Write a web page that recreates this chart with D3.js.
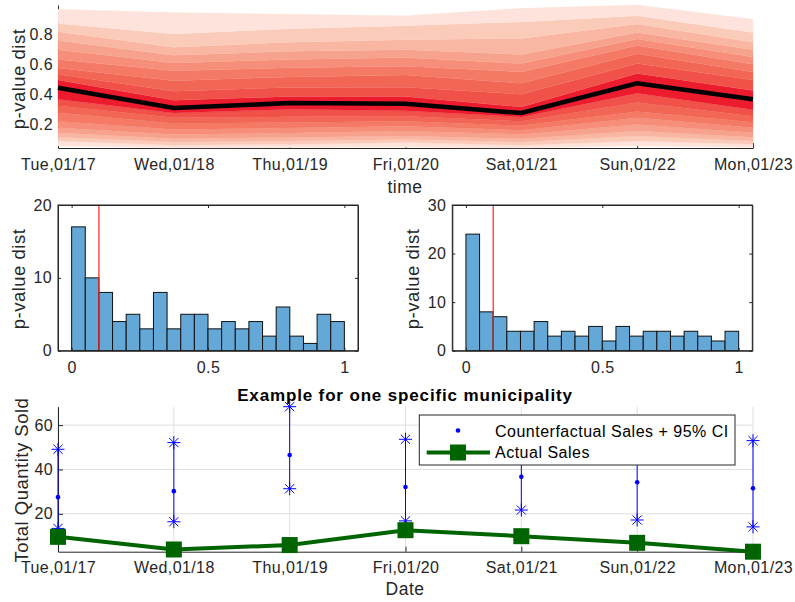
<!DOCTYPE html>
<html>
<head>
<meta charset="utf-8">
<script src="https://cdn.jsdelivr.net/npm/d3@7/dist/d3.min.js"></script>
<style>
  body { margin: 0; background: #fff; }
  text { font-family: "Liberation Sans", Arial, sans-serif; }
</style>
</head>
<body>
<div id="chart"></div>
<script>
      // ---- data ----
      var days = ["Tue,01/17", "Wed,01/18", "Thu,01/19", "Fri,01/20", "Sat,01/21", "Sun,01/22", "Mon,01/23"];

      // fan chart: quantile edges per day, bottom -> median and median -> top
      var fanLow = [
        [0.056, 0.089, 0.115, 0.144, 0.177, 0.220, 0.277, 0.323, 0.367],
        [0.043, 0.061, 0.083, 0.105, 0.133, 0.166, 0.205, 0.243, 0.275],
        [0.046, 0.068, 0.090, 0.113, 0.142, 0.176, 0.212, 0.250, 0.300],
        [0.048, 0.079, 0.100, 0.122, 0.155, 0.188, 0.220, 0.253, 0.290],
        [0.043, 0.061, 0.083, 0.105, 0.133, 0.161, 0.192, 0.220, 0.249],
        [0.056, 0.089, 0.122, 0.155, 0.199, 0.243, 0.286, 0.345, 0.407],
        [0.046, 0.068, 0.089, 0.115, 0.144, 0.177, 0.214, 0.253, 0.297]
      ];
      var fanHigh = [
        [0.494, 0.533, 0.574, 0.630, 0.695, 0.756, 0.815, 0.870, 0.964],
        [0.360, 0.420, 0.490, 0.555, 0.607, 0.658, 0.712, 0.800, 0.942],
        [0.385, 0.445, 0.515, 0.575, 0.630, 0.685, 0.745, 0.835, 0.931],
        [0.384, 0.446, 0.527, 0.586, 0.643, 0.695, 0.761, 0.854, 0.920],
        [0.315, 0.400, 0.472, 0.548, 0.603, 0.664, 0.770, 0.880, 0.970],
        [0.538, 0.603, 0.669, 0.723, 0.767, 0.810, 0.866, 0.920, 0.992],
        [0.424, 0.494, 0.548, 0.599, 0.647, 0.695, 0.745, 0.810, 0.898]
      ];
      var fanMedian = [0.443, 0.308, 0.341, 0.336, 0.275, 0.472, 0.367];
      var fanTicks = [0.2, 0.4, 0.6, 0.8];

      // histograms of p-values (20 bins of 0.05)
      var histLeft = [17, 10, 8, 4, 5, 3, 8, 3, 5, 5, 3, 4, 3, 4, 2, 6, 2, 1, 5, 4];
      var histRight = [24, 8, 7, 4, 4, 6, 3, 4, 3, 5, 2, 5, 3, 4, 4, 3, 4, 3, 2, 4];
      var binWidth = 0.05;
      var threshold = 0.1;

      // one municipality
      var cfMean = [27.5, 30.2, 46.5, 32.1, 36.7, 34.2, 31.5];
      var cfLower = [13.4, 16.4, 31.3, 16.8, 21.7, 17.2, 14.1];
      var cfUpper = [49.1, 52.1, 68.3, 53.6, 54.5, 51.5, 53.0];
      var actualSales = [9.6, 3.9, 5.9, 12.6, 9.9, 6.9, 2.9];
      var salesTicks = [20, 40, 60];

      // ---- drawing ----
      var axisColor = "#262626";
      var fontSize = "16px";
      var spacing = "0.4px";

      var svg = d3.select("#chart").append("svg")
        .attr("width", 795)
        .attr("height", 602);

      function styleAxis(g) {
        g.attr("font-family", null).attr("font-size", null);
        g.select(".domain").attr("stroke", axisColor);
        g.selectAll(".tick line").attr("stroke", axisColor);
        g.selectAll(".tick text")
          .attr("fill", axisColor)
          .style("font-size", fontSize)
          .style("letter-spacing", spacing);
      }

      // axis titles: horizontal ones a bit larger than ticks, vertical ones larger still
      function label(x, y, txt, rotate) {
        var t = svg.append("text")
          .attr("text-anchor", "middle")
          .attr("fill", axisColor)
          .style("font-size", rotate ? "18.5px" : "17.5px")
          .style("letter-spacing", "0.5px")
          .text(txt);
        if (rotate) {
          t.attr("transform", "translate(" + x + "," + y + ") rotate(-90)");
        } else {
          t.attr("x", x).attr("y", y);
        }
        return t;
      }

      // ===== top: fan chart =====
      var xDay = d3.scalePoint().domain(days).range([58, 753]).padding(0);
      var allEdges = d3.merge(fanLow.concat(fanHigh));
      var yFan = d3.scaleLinear().domain(d3.extent(allEdges)).range([148, 5]);

      // axes first, the fan is painted over them (matlab layer = bottom)
      svg.append("g")
        .attr("transform", "translate(0,148)")
        .call(d3.axisBottom(xDay).tickSizeInner(-5).tickSizeOuter(0).tickPadding(11))
        .call(styleAxis);
      svg.append("g")
        .attr("transform", "translate(58,0)")
        .call(d3.axisLeft(yFan).tickValues(fanTicks).tickFormat(d3.format(".1f"))
          .tickSizeInner(-5).tickSizeOuter(0).tickPadding(5))
        .call(styleAxis);

      var bandColors = ["#ec1b2e", "#f0524a", "#f26656", "#f47a66", "#f68e79", "#f7a28d", "#f9b6a2", "#fbcbba", "#fde3db"];

      var edgesByDay = days.map(function(d, i) {
        return fanLow[i].concat(fanHigh[i]);
      });
      var nBands = edgesByDay[0].length - 1;
      var centre = fanLow[0].length - 1;
      var bands = d3.range(nBands).map(function(b) {
        return {
          level: Math.abs(b - centre),
          pts: days.map(function(d, i) {
            return { day: d, lo: edgesByDay[i][b], hi: edgesByDay[i][b + 1] };
          })
        };
      });

      var fanArea = d3.area()
        .x(function(p) { return xDay(p.day); })
        .y0(function(p) { return yFan(p.lo); })
        .y1(function(p) { return yFan(p.hi); });

      var fanG = svg.append("g");
      fanG.selectAll(".band")
        .data(bands)
        .enter().append("path")
        .attr("class", "band")
        .attr("d", function(b) { return fanArea(b.pts); })
        .attr("fill", function(b) { return bandColors[b.level]; })
        .attr("stroke", function(b) { return bandColors[b.level]; })
        .attr("stroke-width", 0.3);

      fanG.append("path")
        .datum(fanMedian)
        .attr("fill", "none")
        .attr("stroke", "#000")
        .attr("stroke-width", 4.5)
        .attr("d", d3.line()
          .x(function(v, i) { return xDay(days[i]); })
          .y(function(v) { return yFan(v); }));

      label(405, 193, "time");
      label(25, 79, "p-value dist", true);

      // ===== middle: histograms =====
      function histogram(counts, left, yMax, yTicks) {
        var x = d3.scaleLinear().domain([-0.05, 1.05]).range([left, left + 300]);
        var y = d3.scaleLinear().domain([0, yMax]).range([350.7, 205]);
        var g = svg.append("g");

        g.selectAll("rect")
          .data(counts)
          .enter().append("rect")
          .attr("x", function(c, i) { return x(i * binWidth); })
          .attr("width", function(c, i) { return x((i + 1) * binWidth) - x(i * binWidth); })
          .attr("y", function(c) { return y(c); })
          .attr("height", function(c) { return y(0) - y(c); })
          .attr("fill", "#64a8d7")
          .attr("stroke", "#111")
          .attr("stroke-width", 1);

        g.append("line")
          .attr("x1", x(threshold)).attr("x2", x(threshold))
          .attr("y1", y(0)).attr("y2", y(yMax))
          .attr("stroke", "#ff2020")
          .attr("stroke-width", 1.2);

        g.append("rect")
          .attr("x", x(-0.05)).attr("y", y(yMax))
          .attr("width", 300).attr("height", y(0) - y(yMax))
          .attr("fill", "none")
          .attr("stroke", axisColor);

        var xt = [0, 0.5, 1];
        svg.append("g")
          .attr("transform", "translate(0,350.7)")
          .call(d3.axisBottom(x).tickValues(xt).tickFormat(d3.format("~g"))
            .tickSizeInner(-3).tickSizeOuter(0).tickPadding(11))
          .call(styleAxis);
        svg.append("g")
          .attr("transform", "translate(0,205)")
          .call(d3.axisTop(x).tickValues(xt).tickFormat("").tickSizeInner(-3).tickSizeOuter(0))
          .call(styleAxis);
        svg.append("g")
          .attr("transform", "translate(" + left + ",0)")
          .call(d3.axisLeft(y).tickValues(yTicks).tickSizeInner(-3).tickSizeOuter(0).tickPadding(6))
          .call(styleAxis);
        svg.append("g")
          .attr("transform", "translate(" + (left + 300) + ",0)")
          .call(d3.axisRight(y).tickValues(yTicks).tickFormat("").tickSizeInner(-3).tickSizeOuter(0))
          .call(styleAxis);

        label(left - 33, 279, "p-value dist", true);
      }

      histogram(histLeft, 58, 20, [0, 10, 20]);
      histogram(histRight, 452.3, 30, [0, 10, 20, 30]);

      // ===== bottom: one municipality =====
      var ySales = d3.scaleLinear()
        .domain([d3.min(actualSales), d3.max(cfUpper)])
        .range([551.7, 406.7]);

      var grid = svg.append("g");
      grid.selectAll(".gx")
        .data(days)
        .enter().append("line")
        .attr("x1", function(d) { return xDay(d); })
        .attr("x2", function(d) { return xDay(d); })
        .attr("y1", 551.7).attr("y2", 406.7)
        .attr("stroke", "#dfdfdf");
      grid.selectAll(".gy")
        .data(salesTicks)
        .enter().append("line")
        .attr("y1", function(v) { return ySales(v); })
        .attr("y2", function(v) { return ySales(v); })
        .attr("x1", 58).attr("x2", 753)
        .attr("stroke", "#dfdfdf");

      svg.append("g")
        .attr("transform", "translate(0,551.7)")
        .call(d3.axisBottom(xDay).tickSizeInner(-5).tickSizeOuter(0).tickPadding(9.5))
        .call(styleAxis);
      svg.append("g")
        .attr("transform", "translate(58,0)")
        .call(d3.axisLeft(ySales).tickValues(salesTicks).tickSizeInner(-5).tickSizeOuter(0).tickPadding(5))
        .call(styleAxis);

      function asterisk(g, cx, cy, r) {
        var s = r * Math.SQRT1_2;
        g.append("path")
          .attr("d", "M" + (cx - r) + "," + cy + "h" + 2 * r +
            "M" + cx + "," + (cy - r) + "v" + 2 * r +
            "M" + (cx - s) + "," + (cy - s) + "l" + 2 * s + "," + 2 * s +
            "M" + (cx - s) + "," + (cy + s) + "l" + 2 * s + "," + (-2 * s))
          .attr("stroke", "#0000ff")
          .attr("stroke-width", 1)
          .attr("fill", "none");
      }

      var cf = svg.append("g");
      days.forEach(function(d, i) {
        var cx = xDay(d);
        cf.append("line")
          .attr("x1", cx).attr("x2", cx)
          .attr("y1", ySales(cfLower[i])).attr("y2", ySales(cfUpper[i]))
          .attr("stroke", "#0000ff");
        asterisk(cf, cx, ySales(cfLower[i]), 6.5);
        asterisk(cf, cx, ySales(cfUpper[i]), 6.5);
        cf.append("circle")
          .attr("cx", cx).attr("cy", ySales(cfMean[i]))
          .attr("r", 2.3)
          .attr("fill", "#0000ff");
      });

      var green = "#006400";
      svg.append("path")
        .datum(actualSales)
        .attr("fill", "none")
        .attr("stroke", green)
        .attr("stroke-width", 4)
        .attr("d", d3.line()
          .x(function(v, i) { return xDay(days[i]); })
          .y(function(v) { return ySales(v); }));
      svg.selectAll(".sq")
        .data(actualSales)
        .enter().append("rect")
        .attr("x", function(v, i) { return xDay(days[i]) - 8; })
        .attr("y", function(v) { return ySales(v) - 8; })
        .attr("width", 16).attr("height", 16)
        .attr("fill", green);

      svg.append("text")
        .attr("x", 405).attr("y", 400.5)
        .attr("text-anchor", "middle")
        .style("font-size", "17px")
        .style("font-weight", "bold")
        .style("letter-spacing", "0.85px")
        .attr("fill", "#000")
        .text("Example for one specific municipality");
      label(405, 595, "Date");
      label(28, 480, "Total Quantity Sold", true);

      // legend
      var lg = svg.append("g");
      lg.append("rect")
        .attr("x", 419.3).attr("y", 415)
        .attr("width", 315.7).attr("height", 50)
        .attr("fill", "#fff")
        .attr("stroke", axisColor);
      lg.append("circle")
        .attr("cx", 458).attr("cy", 430.5).attr("r", 2.3)
        .attr("fill", "#0000ff");
      lg.append("text")
        .attr("x", 495).attr("y", 437)
        .attr("fill", "#000")
        .style("font-size", fontSize)
        .style("letter-spacing", "0.5px")
        .text("Counterfactual Sales + 95% CI");
      lg.append("line")
        .attr("x1", 426.7).attr("x2", 490)
        .attr("y1", 452.5).attr("y2", 452.5)
        .attr("stroke", green)
        .attr("stroke-width", 4);
      lg.append("rect")
        .attr("x", 450).attr("y", 444.5)
        .attr("width", 16).attr("height", 16)
        .attr("fill", green);
      lg.append("text")
        .attr("x", 495).attr("y", 458)
        .attr("fill", "#000")
        .style("font-size", fontSize)
        .style("letter-spacing", "0.5px")
        .text("Actual Sales");
</script>
</body>
</html>
